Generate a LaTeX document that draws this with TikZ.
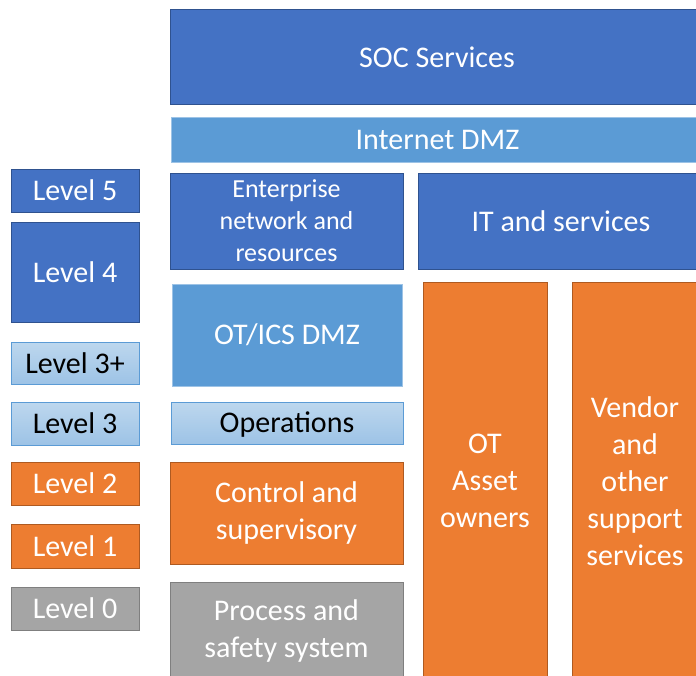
\documentclass[tikz,border=0pt]{standalone}
\usepackage{fontspec}
\setmainfont{Carlito}
\definecolor{darkblue}{HTML}{4472C4}
\definecolor{darkblueline}{HTML}{2F528F}
\definecolor{midblue}{HTML}{5B9BD5}
\definecolor{paleblue}{HTML}{9DC3E6}
\definecolor{paletop}{HTML}{BDD7EE}
\definecolor{orangefill}{HTML}{ED7D31}
\definecolor{orangeline}{HTML}{AE5A21}
\definecolor{greyfill}{HTML}{A5A5A5}
\definecolor{greyline}{HTML}{7F7F7F}
\tikzset{
  block/.style={rectangle, inner sep=0pt, outer sep=0pt, line width=1pt, align=center,
    text=white, font=\fontsize{30}{37}\selectfont},
  darkzone/.style={block, fill=darkblue, draw=darkblueline},
  dmzzone/.style={block, fill=midblue, draw=paleblue},
  opszone/.style={block, top color=paletop, bottom color=paleblue, draw=midblue, text=black},
  otzone/.style={block, fill=orangefill, draw=orangeline},
  greyzone/.style={block, fill=greyfill, draw=greyline},
  levelbox/.style={minimum width=128pt}
}
\begin{document}
\begin{tikzpicture}[x=1pt, y=-1pt]
\clip (0,0) rectangle (696,675);
\fill[white] (0,0) rectangle (696,675);

% levels on the left
\node[darkzone, levelbox, minimum height=43pt] (l5) at (75,190.5) {Level 5};
\node[darkzone, levelbox, minimum height=100pt] (l4) at (75,272) {Level 4};
\node[opszone, levelbox, minimum height=42pt] (l3p) at (75,363) {Level 3+};
\node[opszone, levelbox, minimum height=43pt] (l3) at (75,423.5) {Level 3};
\node[otzone, levelbox, minimum height=43pt] (l2) at (75,483.5) {Level 2};
\node[otzone, levelbox, minimum height=44pt] (l1) at (75,546) {Level 1};
\node[greyzone, levelbox, minimum height=43pt] (l0) at (75,608.5) {Level 0};

% zones
\node[darkzone, minimum width=534pt, minimum height=95pt] (soc) at (437,57) {SOC Services};
\node[dmzzone, minimum width=533pt, minimum height=45pt] (inet) at (437.5,139.5) {Internet DMZ};
\node[darkzone, minimum width=233pt, minimum height=96pt, font=\fontsize{26}{32}\selectfont] (ent) at (286.5,221)
  {Enterprise\\network and\\resources};
\node[darkzone, minimum width=286pt, minimum height=96pt] (itsvc) at (561,221) {IT and services};
\node[dmzzone, minimum width=230pt, minimum height=102pt] (otdmz) at (287,335) {OT/ICS DMZ};
\node[opszone, minimum width=232pt, minimum height=42pt, text depth=2pt] (ops) at (287,423) {Operations};
\node[otzone, minimum width=233pt, minimum height=102pt] (ctrl) at (286.5,513) {Control and\\supervisory};
\node[greyzone, minimum width=233pt, minimum height=97pt] (proc) at (286.5,630.5) {Process and\\safety system};
\node[otzone, minimum width=124pt, minimum height=398pt] (owners) at (485,481) {OT\\Asset\\owners};
\node[otzone, minimum width=126pt, minimum height=398pt] (vendor) at (635,481)
  {Vendor\\and\\other\\support\\services};
\end{tikzpicture}
\end{document}
